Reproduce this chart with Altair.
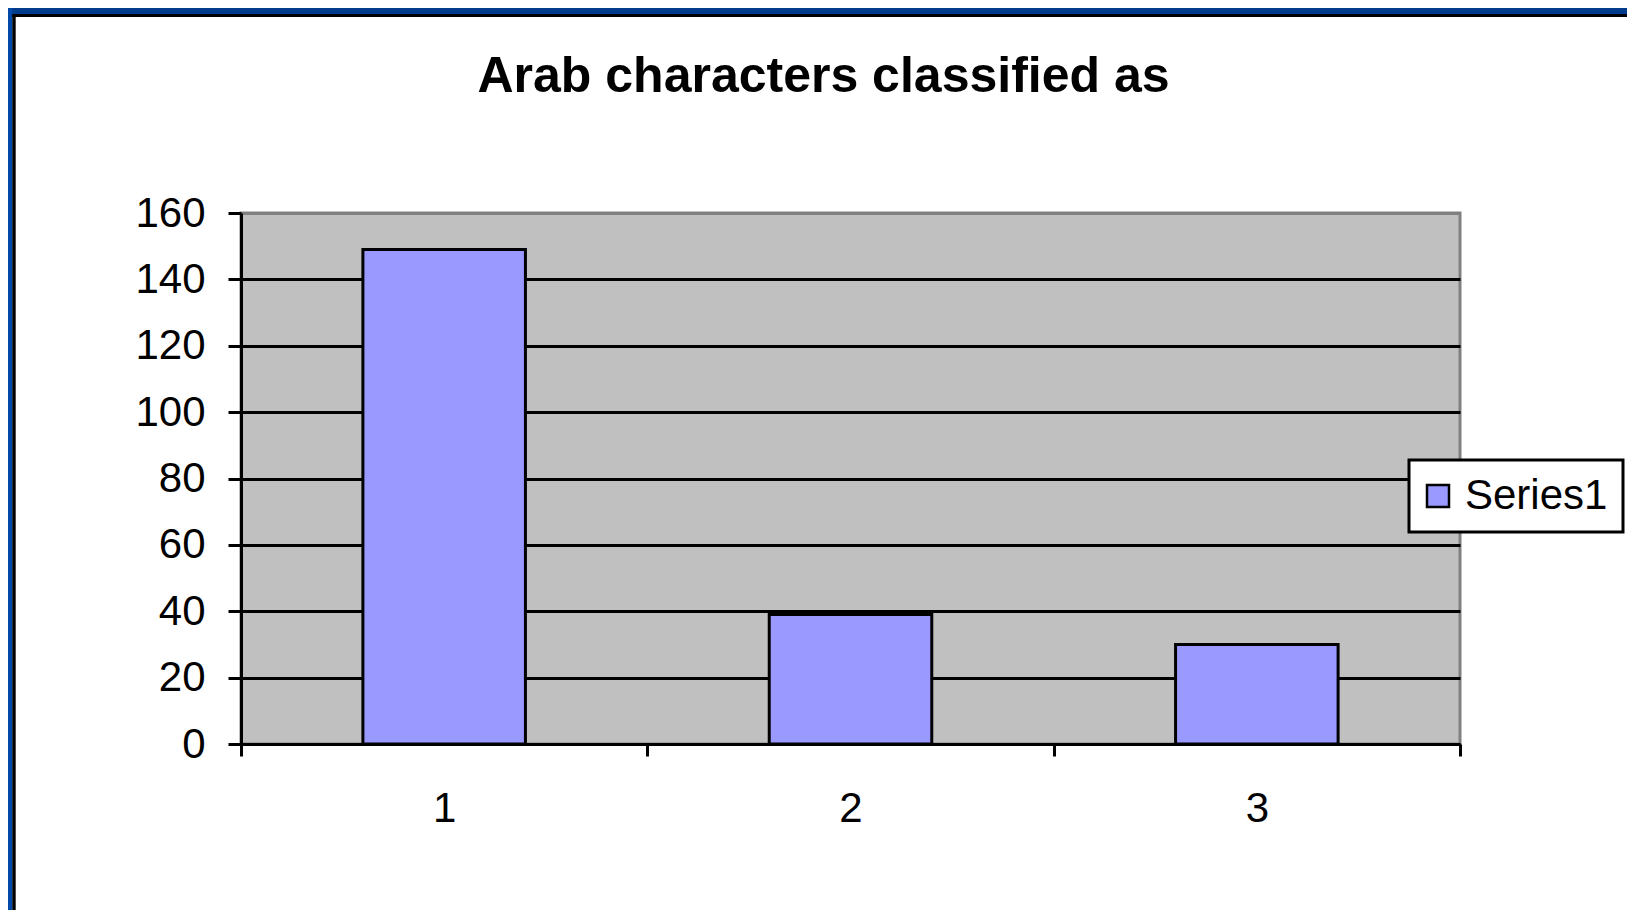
import altair as alt
import pandas as pd

# ---- data ----
categories = ["1", "2", "3"]
values = [149, 39, 30]
series = ["Series1", "Series1", "Series1"]
y_ticks = [0, 20, 40, 60, 80, 100, 120, 140, 160]

df = pd.DataFrame({"category": categories, "value": values, "series": series})
frame_df = pd.DataFrame({"k": [0]})

FONT = "Liberation Sans"
PL, PT = 233, 205
W, H = 1219, 531
TOTAL_W, TOTAL_H = 1619, 902

bars = alt.Chart(df).mark_bar(
    width=alt.RelativeBandSize(0.4), stroke="black", strokeWidth=3, opacity=1
).encode(
    x=alt.X(
        "category:O",
        sort=None,
        scale=alt.Scale(paddingInner=0, paddingOuter=0),
        axis=alt.Axis(
            title=None, labelAngle=0, labelFont=FONT, labelFontSize=42,
            labelColor="black", labelPadding=32, tickSize=12, tickWidth=3,
            tickColor="black", tickBand="extent", domainColor="black",
            domainWidth=3, grid=False,
        ),
    ),
    y=alt.Y(
        "value:Q",
        scale=alt.Scale(domain=[0, 160], nice=False),
        axis=alt.Axis(
            title=None, values=y_ticks, labelFont=FONT, labelFontSize=42,
            labelColor="black", labelPadding=23, tickSize=13, tickWidth=3,
            tickColor="black", domainColor="black", domainWidth=3,
            grid=True, gridWidth=3, gridOpacity=1,
            gridColor=alt.condition("datum.value == 160", alt.value("#808080"), alt.value("black")),
        ),
    ),
    color=alt.Color(
        "series:N",
        scale=alt.Scale(range=["#9999FF"]),
        legend=alt.Legend(
            title=None, orient="none", legendX=1168, legendY=247,
            symbolType="square", symbolSize=484, symbolStrokeColor="black",
            symbolStrokeWidth=2.5, symbolOpacity=1, symbolOffset=-7,
            labelFont=FONT, labelFontSize=42, labelColor="black", labelOffset=6,
            strokeColor="black", fillColor="white", padding=15,
        ),
    ),
)

top_blue = alt.Chart(frame_df).mark_rule(color="#003C8C", strokeWidth=6).encode(
    x=alt.value(-PL), x2=alt.value(TOTAL_W - PL), y=alt.value(-PT + 3)
)
top_black = alt.Chart(frame_df).mark_rule(color="black", strokeWidth=3).encode(
    x=alt.value(-PL), x2=alt.value(TOTAL_W - PL), y=alt.value(-PT + 7.5)
)
left_blue = alt.Chart(frame_df).mark_rule(color="#0049A8", strokeWidth=4.5).encode(
    x=alt.value(-PL + 2.2), y=alt.value(-PT), y2=alt.value(TOTAL_H - PT)
)
left_black = alt.Chart(frame_df).mark_rule(color="black", strokeWidth=3.4).encode(
    x=alt.value(-PL + 6), y=alt.value(-PT + 6), y2=alt.value(TOTAL_H - PT)
)

chart = alt.layer(bars, top_blue, top_black, left_blue, left_black).properties(
    width=W,
    height=H,
    padding={"left": PL, "top": PT, "right": TOTAL_W - PL - W, "bottom": TOTAL_H - PT - H},
    autosize=alt.AutoSizeParams(type="none"),
    background="white",
    title=alt.TitleParams(
        "Arab characters classified as", font=FONT, fontSize=50,
        fontWeight="bold", color="black", anchor="middle", dx=-27,
        offset=40, dy=176, baseline="alphabetic",
    ),
).configure_view(fill="#C0C0C0", stroke="#808080", strokeWidth=3
).configure_legend(strokeWidth=3)

chart.save("out.html", embed_options={"renderer": "svg", "actions": False})
